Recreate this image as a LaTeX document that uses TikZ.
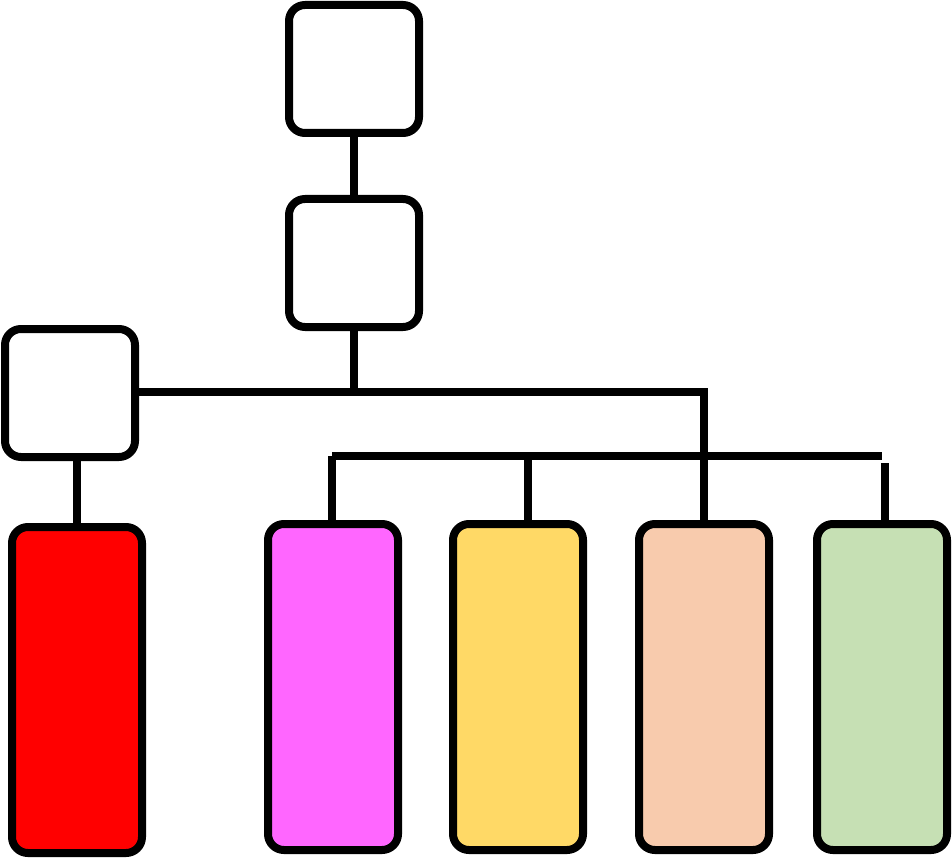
\documentclass[tikz,border=0pt]{standalone}
\begin{document}
\begin{tikzpicture}[x=1pt,y=-1pt,
box/.style={draw=black,line width=8pt,rounded corners=16pt,minimum width=130pt,minimum height=128pt,inner sep=0pt,fill=white},
tall/.style={box,minimum height=326pt},
ln/.style={line width=8pt}]
\useasboundingbox (0,0) rectangle (952,858);
\node[box] (a) at (354,69) {};
\node[box] (b) at (354,263) {};
\node[box] (c) at (70,393) {};
\node[tall,fill={rgb,255:red,255;green,0;blue,0}] (r) at (77,690) {};
\node[tall,fill={rgb,255:red,255;green,102;blue,255}] (m) at (333,687) {};
\node[tall,fill={rgb,255:red,255;green,217;blue,102}] (y) at (518,687) {};
\node[tall,fill={rgb,255:red,248;green,203;blue,173}] (p) at (704,687) {};
\node[tall,fill={rgb,255:red,198;green,224;blue,180}] (g) at (882,687) {};
\coordinate (j) at (354,392);
\coordinate (k) at (704,392);
\coordinate (h1) at (332,456);
\coordinate (h2) at (882,456);
\draw[ln] (a) -- (b);
\draw[ln] (b) -- (j);
\draw[ln] (c.east|-j) -- (k) -- (p.north);
\draw[ln] (h1) -- (h2);
\draw[ln] (h1) -- (m.north-|h1);
\draw[ln] (528,456) -- (y.north-|528,0);
\draw[ln] (885,463) -- (g.north-|885,0);
\draw[ln] (c.south-|r) -- (r.north);
\end{tikzpicture}
\end{document}
